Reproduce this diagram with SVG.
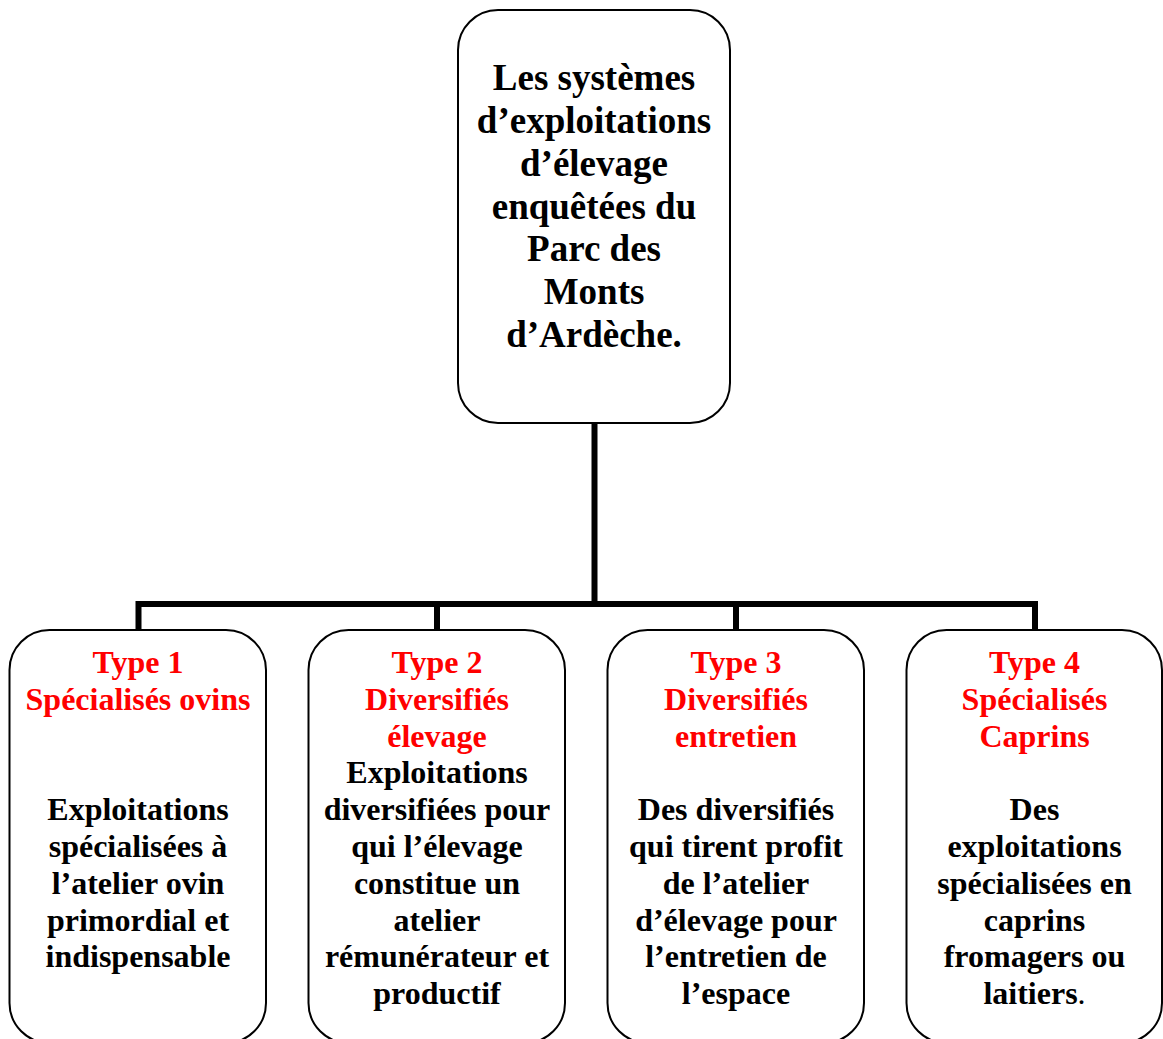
<svg xmlns="http://www.w3.org/2000/svg" width="1163" height="1039" viewBox="0 0 1163 1039">
<style>
.box{fill:#fff;stroke:#000;stroke-width:2}
.conn{fill:none;stroke:#000;stroke-width:6;stroke-linejoin:miter;stroke-linecap:butt}
text{font-family:"Liberation Serif","Times New Roman",serif;font-weight:bold;text-anchor:middle}
.top{font-size:37px;fill:#000}
.t{font-size:32px;fill:#000}
.r{fill:#ff0000}
</style>
<rect width="1163" height="1039" fill="#fff"/>
<g id="connectors">
<line class="conn" x1="594.5" y1="423" x2="594.5" y2="604"/>
<polyline class="conn" points="138.5,630 138.5,604 1035,604 1035,630"/>
<line class="conn" x1="437" y1="604" x2="437" y2="630"/>
<line class="conn" x1="736" y1="604" x2="736" y2="630"/>
</g>
<g id="root">
<rect class="box" x="458" y="10" width="272" height="413" rx="40" ry="40"/>
<text class="top"><tspan x="594" y="90">Les systèmes</tspan><tspan x="594" y="133">d’exploitations</tspan><tspan x="594" y="176">d’élevage</tspan><tspan x="594" y="218.5">enquêtées du</tspan><tspan x="594" y="261">Parc des</tspan><tspan x="594" y="304">Monts</tspan><tspan x="594" y="347">d’Ardèche.</tspan></text>
</g>
<g id="type1">
<rect class="box" x="9.5" y="630" width="256.5" height="413" rx="40" ry="40"/>
<text class="t"><tspan class="r" x="138" y="673">Type 1</tspan><tspan class="r" x="138" y="709.8">Spécialisés ovins</tspan><tspan x="138" y="820.2">Exploitations</tspan><tspan x="138" y="857">spécialisées à</tspan><tspan x="138" y="893.8">l’atelier ovin</tspan><tspan x="138" y="930.6">primordial et</tspan><tspan x="138" y="967.4">indispensable</tspan></text>
</g>
<g id="type2">
<rect class="box" x="308.5" y="630" width="256.5" height="413" rx="40" ry="40"/>
<text class="t"><tspan class="r" x="437" y="673">Type 2</tspan><tspan class="r" x="437" y="709.8">Diversifiés</tspan><tspan class="r" x="437" y="746.6">élevage</tspan><tspan x="437" y="783.4">Exploitations</tspan><tspan x="437" y="820.2">diversifiées pour</tspan><tspan x="437" y="857">qui l’élevage</tspan><tspan x="437" y="893.8">constitue un</tspan><tspan x="437" y="930.6">atelier</tspan><tspan x="437" y="967.4">rémunérateur et</tspan><tspan x="437" y="1004.2">productif</tspan></text>
</g>
<g id="type3">
<rect class="box" x="607.5" y="630" width="256.5" height="413" rx="40" ry="40"/>
<text class="t"><tspan class="r" x="736" y="673">Type 3</tspan><tspan class="r" x="736" y="709.8">Diversifiés</tspan><tspan class="r" x="736" y="746.6">entretien</tspan><tspan x="736" y="820.2">Des diversifiés</tspan><tspan x="736" y="857">qui tirent profit</tspan><tspan x="736" y="893.8">de l’atelier</tspan><tspan x="736" y="930.6">d’élevage pour</tspan><tspan x="736" y="967.4">l’entretien de</tspan><tspan x="736" y="1004.2">l’espace</tspan></text>
</g>
<g id="type4">
<rect class="box" x="906.5" y="630" width="255.5" height="413" rx="40" ry="40"/>
<text class="t"><tspan class="r" x="1034.5" y="673">Type 4</tspan><tspan class="r" x="1034.5" y="709.8">Spécialisés</tspan><tspan class="r" x="1034.5" y="746.6">Caprins</tspan><tspan x="1034.5" y="820.2">Des</tspan><tspan x="1034.5" y="857">exploitations</tspan><tspan x="1034.5" y="893.8">spécialisées en</tspan><tspan x="1034.5" y="930.6">caprins</tspan><tspan x="1034.5" y="967.4">fromagers ou</tspan><tspan x="1034.5" y="1004.2">laitiers<tspan font-weight="normal">.</tspan></tspan></text>
</g>
</svg>
